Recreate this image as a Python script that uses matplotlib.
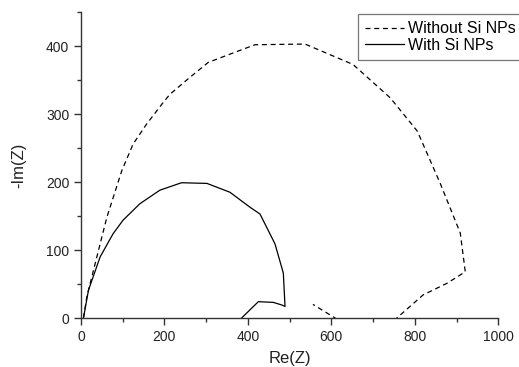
import numpy as np
import matplotlib
matplotlib.use('Agg')
import matplotlib.pyplot as plt
from matplotlib.ticker import MultipleLocator

plt.rcParams['font.family'] = ['Liberation Sans', 'DejaVu Sans']

# Nyquist data
re_without = [6, 14, 34, 62, 98, 125, 157, 197, 213, 261, 305, 365, 417, 537, 652,
              741, 806, 861, 909, 921, 877, 820, 757, 700, 645, 609, 556]
im_without = [0, 31, 80, 148, 217, 256, 285, 317, 329, 354, 376, 390, 402, 403, 373,
              324, 275, 198, 125, 68, 51, 34, 0, -35, -25, 0, 20]

re_with = [6, 18, 46, 77, 101, 141, 189, 241, 302, 357, 405, 429, 465, 485,
           489, 482, 461, 425, 385, 350]
im_with = [0, 41, 90, 124, 144, 168, 188, 199, 198, 185, 163, 153, 109, 66,
           17, 19, 23, 24, 0, -30]

fig = plt.figure(figsize=(5.19, 3.67), dpi=100)
ax = fig.add_axes([0.156, 0.1335, 0.804, 0.8335])

ax.plot(re_without, im_without, color='black', lw=0.9, ls=(0, (4, 3)),
        label='Without Si NPs')
ax.plot(re_with, im_with, color='black', lw=0.9, label='With Si NPs')

ax.set_xlim(0, 1000)
ax.set_ylim(0, 450)
ax.xaxis.set_major_locator(MultipleLocator(200))
ax.xaxis.set_minor_locator(MultipleLocator(100))
ax.yaxis.set_major_locator(MultipleLocator(100))
ax.yaxis.set_minor_locator(MultipleLocator(50))

for s in ['top', 'right']:
    ax.spines[s].set_visible(False)
for s in ['left', 'bottom']:
    ax.spines[s].set_linewidth(1.0)
    ax.spines[s].set_color('#333333')

ax.tick_params(which='major', direction='out', length=5, width=1, labelsize=10,
               colors='#333333', labelcolor='#222222')
ax.tick_params(which='minor', direction='out', length=3, width=1, colors='#333333')

ax.set_xlabel('Re(Z)', fontsize=12, labelpad=5, color='#222222')
ax.set_ylabel('-Im(Z)', fontsize=12, labelpad=14, color='#222222')

leg = fig.legend(loc='upper left', bbox_to_anchor=(358 / 519, 1 - 14 / 367),
                 fontsize=11.5, frameon=True, fancybox=False, handlelength=2.4,
                 handletextpad=0.3, borderpad=0.45, labelspacing=0.1,
                 borderaxespad=0)
leg.get_frame().set_edgecolor('#555555')
leg.get_frame().set_linewidth(0.9)

fig.savefig('out.png', dpi=100)
